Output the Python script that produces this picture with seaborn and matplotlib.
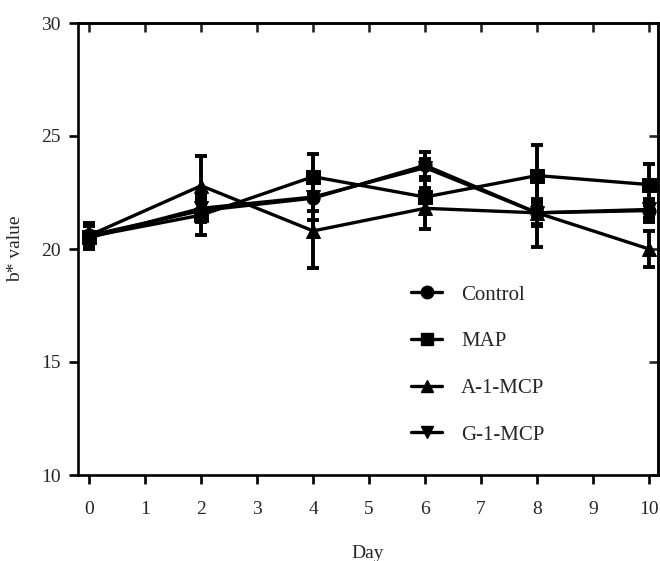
import matplotlib
matplotlib.use("Agg")
import matplotlib.pyplot as plt
from matplotlib.lines import Line2D
import seaborn as sns
import pandas as pd

days = [0, 2, 4, 6, 8, 10]
series_names = ["Control", "MAP", "A-1-MCP", "G-1-MCP"]
control = [20.6, 21.7, 22.25, 23.7, 21.6, 21.7]
control_err = [0.5, 0.5, 0.95, 0.6, 0.6, 0.5]
map_vals = [20.55, 21.5, 23.2, 22.3, 23.25, 22.85]
map_err = [0.5, 0.9, 1.0, 0.75, 1.35, 0.9]
a1mcp = [20.6, 22.8, 20.8, 21.8, 21.6, 20.0]
a1mcp_err = [0.55, 1.3, 1.65, 0.9, 1.5, 0.8]
g1mcp = [20.5, 21.8, 22.3, 23.6, 21.6, 21.75]
g1mcp_err = [0.5, 0.4, 0.6, 0.4, 0.5, 0.4]
x_ticks = [0, 1, 2, 3, 4, 5, 6, 7, 8, 9, 10]
y_ticks = [10, 15, 20, 25, 30]

sns.set_style("ticks")
plt.rcParams["font.family"] = ["Liberation Serif", "DejaVu Serif"]

values = [control, map_vals, a1mcp, g1mcp]
errs = [control_err, map_err, a1mcp_err, g1mcp_err]
markers = {"Control": "o", "MAP": "s", "A-1-MCP": "^", "G-1-MCP": "v"}

rows = []
for name, vals, er in zip(series_names, values, errs):
    for d, v, e in zip(days, vals, er):
        rows.append({"Day": d, "value": v, "err": e, "series": name})
df = pd.DataFrame(rows)

fig = plt.figure(figsize=(6.6, 5.61), dpi=100)
ax = fig.add_axes([78 / 660, 86 / 561, 580 / 660, 452 / 561])

for name in series_names:
    sub = df[df["series"] == name]
    ax.errorbar(sub["Day"], sub["value"], yerr=sub["err"], fmt="none",
                ecolor="black", elinewidth=2.8, capsize=4.5, capthick=2.8, zorder=2)

sns.lineplot(data=df, x="Day", y="value", style="series", markers=markers,
             dashes=False, color="black", linewidth=2.4, markersize=9.5,
             markeredgecolor="black", ax=ax, legend=False, zorder=3)

ax.set_xlim(-0.2, 10.16)
ax.set_ylim(10, 30)
ax.set_xticks(x_ticks)
ax.set_yticks(y_ticks)
ax.tick_params(axis="both", direction="out", length=6.5, width=1.9,
               labelsize=14, pad=6, color="black")
ax.tick_params(axis="x", pad=12)
for s in ax.spines.values():
    s.set_linewidth(1.9)
    s.set_color("black")

secx = ax.secondary_xaxis("top")
secx.set_xticks(x_ticks)
secx.tick_params(direction="in", length=6.5, width=1.9, labeltop=False)
secx.spines["top"].set_linewidth(1.9)
secy = ax.secondary_yaxis("right")
secy.set_yticks(y_ticks)
secy.tick_params(direction="in", length=6.5, width=1.9, labelright=False)
secy.spines["right"].set_linewidth(1.9)

ax.set_xlabel("Day", fontsize=14, labelpad=20)
ax.set_ylabel("b* value", fontsize=14, labelpad=12)

handles = [Line2D([], [], color="black", marker=markers[n], linewidth=2.4,
                  markersize=9) for n in series_names]
ax.legend(handles, series_names, loc="upper left", bbox_to_anchor=(0.574, 0.42),
          frameon=False, fontsize=15, handlelength=1.5, handletextpad=0.9,
          labelspacing=1.3, borderpad=0, borderaxespad=0)

fig.savefig("out.png", dpi=100)
